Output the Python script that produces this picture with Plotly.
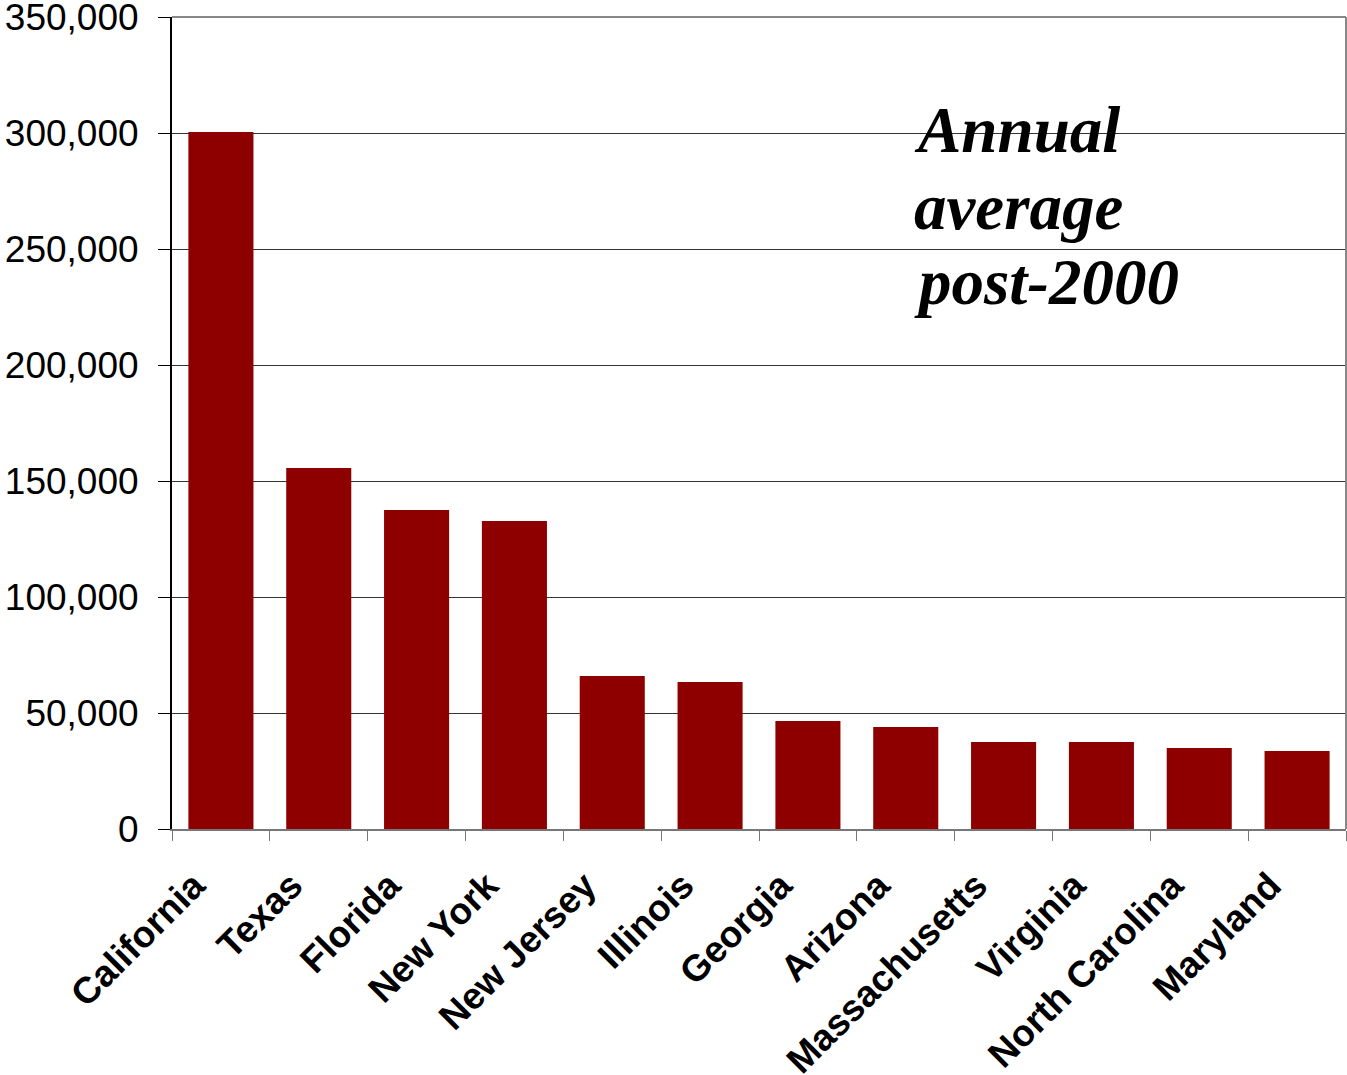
import plotly.graph_objects as go

states = ["California", "Texas", "Florida", "New York", "New Jersey", "Illinois",
          "Georgia", "Arizona", "Massachusetts", "Virginia", "North Carolina", "Maryland"]
values = [300400, 155600, 137500, 132800, 65900, 63400,
          46600, 44000, 37500, 37500, 34900, 33600]
note_lines = ["Annual", "average", "post-2000"]

W, H = 1347, 1075
ML, MR, MT, MB = 172, 1, 17, 246

fig = go.Figure(go.Bar(x=states, y=values, marker=dict(color="#8E0000", line=dict(width=0)),
                       width=0.665))

fig.update_layout(
    width=W, height=H,
    margin=dict(l=ML, r=MR, t=MT, b=MB, pad=0, autoexpand=False),
    paper_bgcolor="white", plot_bgcolor="white",
    showlegend=False,
    font=dict(family="Liberation Sans, Arial, sans-serif", color="black"),
)

fig.update_xaxes(
    type="category",
    automargin=False,
    tickson="boundaries",
    ticks="outside", ticklen=10, tickcolor="#777777", tickwidth=1,
    showline=True, linecolor="#777777", linewidth=2,
    showgrid=False,
    tickangle=-45,
    tickfont=dict(size=37, family="Liberation Sans, Arial, sans-serif", weight="bold"),
    ticklabelshift=-27,
    ticklabelstandoff=18,
)

fig.update_yaxes(
    range=[0, 350000], dtick=50000, tickformat=",",
    automargin=False,
    ticks="outside", ticklen=12, tickcolor="black", tickwidth=1,
    showline=True, linecolor="black", linewidth=2,
    showgrid=True, gridcolor="#333333", gridwidth=1,
    zeroline=False,
    tickfont=dict(size=37, family="Liberation Sans, Arial, sans-serif"),
    ticklabelstandoff=12,
    ticklabeloverflow="allow",
)

# top and right border
fig.add_shape(type="line", xref="paper", yref="paper", x0=0, x1=1, y0=1, y1=1,
              line=dict(color="#888888", width=2))
fig.add_shape(type="line", xref="paper", yref="paper", x0=1, x1=1, y0=0, y1=1,
              line=dict(color="#888888", width=2))

plot_h = H - MT - MB
plot_w = W - ML - MR
centers_px = [130, 207, 282]
for txt, py in zip(note_lines, centers_px):
    fig.add_annotation(
        text=txt, xref="paper", yref="paper",
        x=(912 - ML) / plot_w, y=(H - MB - py) / plot_h,
        xanchor="left", yanchor="middle", showarrow=False,
        font=dict(family="Liberation Serif, Times New Roman, serif", size=65,
                  color="black", weight="bold", style="italic"),
    )

fig.write_html("out.html")
